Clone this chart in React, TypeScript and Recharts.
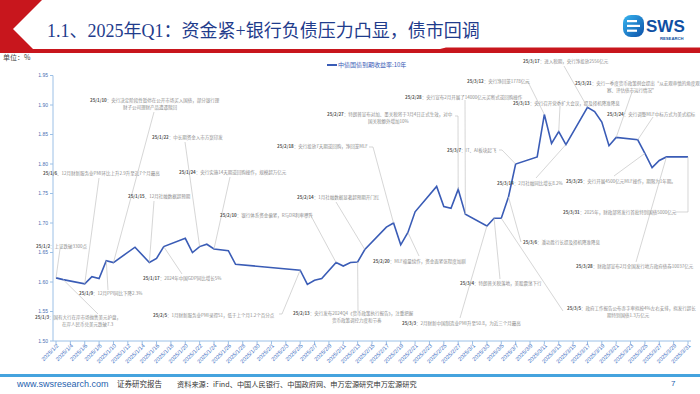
import React from "react";
import { LineChart, Line, XAxis, YAxis, ReferenceDot } from "recharts";

// 中债国债到期收益率:10年 (%), trading days only
const tradeDates = [
  "2025/1/2", "2025/1/3", "2025/1/6", "2025/1/7", "2025/1/8", "2025/1/9", "2025/1/10",
  "2025/1/13", "2025/1/15", "2025/1/16", "2025/1/17", "2025/1/20", "2025/1/21", "2025/1/22",
  "2025/1/23", "2025/1/24", "2025/1/26", "2025/1/27", "2025/2/5", "2025/2/6", "2025/2/7",
  "2025/2/8", "2025/2/10", "2025/2/11", "2025/2/12", "2025/2/13", "2025/2/14", "2025/2/17",
  "2025/2/18", "2025/2/19", "2025/2/20", "2025/2/21", "2025/2/24", "2025/2/25", "2025/2/26",
  "2025/2/27", "2025/2/28", "2025/3/3", "2025/3/4", "2025/3/5", "2025/3/6", "2025/3/7",
  "2025/3/10", "2025/3/11", "2025/3/12", "2025/3/13", "2025/3/14", "2025/3/17", "2025/3/18",
  "2025/3/19", "2025/3/20", "2025/3/21", "2025/3/24", "2025/3/25", "2025/3/26", "2025/3/27",
  "2025/3/28", "2025/3/31",
];
const yieldValues = [
  1.607, 1.604, 1.597, 1.609, 1.606, 1.636, 1.633,
  1.659, 1.633, 1.64, 1.66, 1.674, 1.65, 1.66,
  1.664, 1.656, 1.653, 1.63, 1.62, 1.596, 1.603,
  1.606, 1.633, 1.627, 1.633, 1.634, 1.655, 1.693,
  1.7, 1.663, 1.684, 1.719, 1.762, 1.728, 1.725,
  1.757, 1.715, 1.695, 1.708, 1.708, 1.744, 1.8,
  1.812, 1.884, 1.835, 1.855, 1.833, 1.896, 1.889,
  1.871, 1.831, 1.845, 1.841, 1.818, 1.794, 1.806,
  1.812, 1.812,
];
const yTicks = [1.5, 1.55, 1.6, 1.65, 1.7, 1.75, 1.8, 1.85, 1.9, 1.95];

// event notes: the date they point at and their text
const noteDates = [
  "2025/1/2", "2025/1/3", "2025/1/6", "2025/1/9", "2025/1/10", "2025/1/15", "2025/1/17",
  "2025/1/22", "2025/1/24", "2025/2/5", "2025/2/10", "2025/2/13", "2025/2/14", "2025/2/18",
  "2025/2/20", "2025/2/27", "2025/2/28", "2025/3/3", "2025/3/4", "2025/3/5", "2025/3/6",
  "2025/3/7", "2025/3/11", "2025/3/13", "2025/3/14", "2025/3/17", "2025/3/21", "2025/3/24",
  "2025/3/25", "2025/3/28", "2025/3/31",
];
const noteTexts = [
  ["25/1/2：上证跌破3300点"],
  ["25/1/3：国有大行在岸市场抛售美元护盘，", "在岸人民币兑美元跌破7.3"],
  ["25/1/6、12月财新服务业PMI环比上升2.9升至近7个月最高"],
  ["25/1/9：12月PPI同比下降2.3%"],
  ["25/1/10：央行决定阶段性暂停在公开市场买入国债，部分银行理", "财子公司理财产品遭遇赎回"],
  ["25/1/15、12月社融数据超预期"],
  ["25/1/17：2024年中国GDP同比增长5%"],
  ["25/1/22：中长期资金入市方案印发"],
  ["25/1/24：央行实施14天期逆回购操作，规模超万亿元"],
  ["25/2/5：1月财新服务业PMI录得51，低于上个月1.2个百分点"],
  ["25/2/10：银行体系资金偏紧，R与DR利率攀升"],
  ["25/2/13：央行发布2024Q4《货币政策执行报告》，注重把握", "货币政策调控力度和节奏"],
  ["25/2/14：1月社融数据显著超预期开门红"],
  ["25/2/18：央行投放7天期逆回购，净回笼MLF"],
  ["25/2/20：MLF缩量续作，资金面紧张程度加剧"],
  ["25/2/27：特朗普宣布对加、墨关税将于3月4日正式生效，对中", "国关税额外增加10%"],
  ["25/2/28：央行宣布2月开展了14000亿元买断式逆回购操作"],
  ["25/3/3：2月财新中国制造业PMI升至50.8，为近三个月最高"],
  ["25/3/4：特朗普关税落地，美股震荡下行"],
  ["25/3/5：政府工作报告公布赤字率拟按4%左右安排，拟发行超长", "期特别国债1.3万亿元"],
  ["25/3/6：潘功胜行长提及择机降准降息"],
  ["25/3/7：IT、AI板块起飞"],
  ["25/3/12：央行净回笼1778亿元"],
  ["25/3/13：央行召开党委扩大会议，提及择机降准降息"],
  ["25/3/14：2月社融同比增长8.2%"],
  ["25/3/17：进入税期，央行净投放2556亿元"],
  ["25/3/21：央行一季度货币政策例会提出“从宏观审慎的角度观", "察、评估债市运行情况”"],
  ["25/3/24：央行调整MLF中标方式为美式招标"],
  ["25/3/25：央行开展4500亿元MLF操作，期限为1年期。"],
  ["25/3/28：财政部宣布2月全国发行地方政府债券10037亿元"],
  ["25/3/31：2025年，财政部将发行首批特别国债5000亿元"],
];
// where each note's text sits: [textX, baselineY, leaderEndX, leaderEndY, line2X, hookX]
const noteBoxes: number[][] = [
  [36, 247.6, 60, 249, 0, 0],
  [35, 319, 98, 314, 62, 0],
  [43, 174.6, 99, 178, 0, 0],
  [79, 294.6, 108, 290, 0, 0],
  [90, 101.6, 154, 112, 123, 0],
  [128, 197.6, 154, 201, 0, 0],
  [143, 279.6, 182, 274, 0, 0],
  [152, 138.6, 185, 142, 0, 0],
  [179, 173.6, 230, 177, 0, 0],
  [153, 316.6, 282, 314, 0, 279],
  [220, 216.6, 310, 214, 0, 306],
  [293, 314.6, 358, 311, 332, 0],
  [297, 198.6, 336, 202, 0, 0],
  [277, 147.6, 373, 147, 0, 369],
  [373, 262.6, 419, 256, 0, 0],
  [327, 115.6, 458, 116, 368, 455],
  [405, 98.6, 465, 100, 0, 0],
  [402, 324.6, 460, 318, 0, 0],
  [460, 284.6, 500, 279, 0, 0],
  [567, 309.6, 563, 311, 607, 0],
  [523, 243.6, 521, 242, 0, 0],
  [447, 151.6, 502, 150, 0, 499],
  [467, 82.6, 528, 82, 0, 525],
  [513, 104.6, 560, 106, 0, 0],
  [497, 184.6, 536, 178, 0, 0],
  [523, 62.6, 564, 66, 0, 0],
  [575, 84.6, 632, 92, 607, 0],
  [607, 115.6, 653, 117, 0, 0],
  [566, 182.6, 614, 176, 0, 0],
  [576, 267.6, 636, 262, 0, 0],
  [563, 213.6, 688, 212, 0, 675],
];

const calendarDays: string[] = [];
for (let d = new Date(2025, 0, 2); d <= new Date(2025, 2, 31); d.setDate(d.getDate() + 1)) {
  calendarDays.push(`${d.getFullYear()}/${d.getMonth() + 1}/${d.getDate()}`);
}
const yieldByDate: Record<string, number> = {};
tradeDates.forEach((d, i) => (yieldByDate[d] = yieldValues[i]));
const chartData = calendarDays.map((date) => ({
  date,
  y: date in yieldByDate ? yieldByDate[date] : null,
}));

const LINE_BLUE = "#3a5cb6";
const AXIS_BLUE = "#9cc0e6";
const CJK = "'Noto Sans CJK SC', 'Noto Sans', sans-serif";

function DateTick({ x, y, payload }: any) {
  return (
    <text
      x={x + 2}
      y={y - 1}
      textAnchor="end"
      dominantBaseline="middle"
      fontSize={5.6}
      fill="#4472c4"
      fontFamily="'Liberation Sans', Arial, sans-serif"
      transform={`rotate(-45, ${x + 2}, ${y - 1})`}
    >
      {payload.value}
    </text>
  );
}

function NoteShape({ cx, cy, idx }: any) {
  const [tx, ty, lx, ly, x2, hook] = noteBoxes[idx];
  const lines = noteTexts[idx];
  const m = lines[0].match(/^(\d+\/\d+\/\d+)(.*)$/);
  return (
    <g>
      <line x1={cx} y1={cy} x2={lx} y2={ly} stroke="#c4c4c4" strokeWidth={0.7} />
      {hook ? <line x1={hook} y1={ly} x2={lx} y2={ly} stroke="#c4c4c4" strokeWidth={0.7} /> : null}
      <text x={tx} y={ty} fontSize={4.5} fontFamily={CJK} fill="#8c8c8c">
        <tspan fill="#555" fontWeight={600}>{m ? m[1] : ""}</tspan>
        <tspan>{m ? m[2] : lines[0]}</tspan>
      </text>
      {lines[1] ? (
        <text x={x2} y={ty + 7} fontSize={4.5} fontFamily={CJK} fill="#8c8c8c">
          {lines[1]}
        </text>
      ) : null}
    </g>
  );
}

function Header() {
  return (
    <svg width={700} height={60} style={{ position: "absolute", left: 0, top: 0 }}>
      <polygon
        points="0,0 42,0 13,29 33,49 440,49 446,47.5 700,47.5 700,53 0,53"
        fill="#c8161d"
      />
      <text
        x={47}
        y={37}
        fontSize={18}
        fill="#1f3c8c"
        fontFamily="'Liberation Serif', 'Noto Sans CJK SC', serif"
      >
        1.1、2025年Q1：资金紧+银行负债压力凸显，债市回调
      </text>
      <defs>
        <linearGradient id="logoGrad" x1="0" y1="0" x2="1" y2="1">
          <stop offset="0%" stopColor="#38b6f0" />
          <stop offset="100%" stopColor="#0b4fa8" />
        </linearGradient>
      </defs>
      <rect x={623} y={15} width={21} height={22} rx={8} fill="url(#logoGrad)" />
      <rect x={627} y={20} width={10} height={2.2} fill="#fff" />
      <rect x={627} y={24.8} width={13} height={2.2} fill="#fff" />
      <rect x={627} y={29.6} width={10} height={2.2} fill="#fff" />
      <text x={646} y={32} fontSize={17} fontWeight={700} fill="#0f4fa3" fontFamily="'Liberation Sans', Arial, sans-serif">
        SWS
      </text>
      <text x={660} y={39.5} fontSize={4.2} fontWeight={700} fill="#0f4fa3" fontFamily="'Liberation Sans', Arial, sans-serif">
        RESEARCH
      </text>
    </svg>
  );
}

export default function App() {
  return (
    <div
      style={{
        position: "fixed",
        left: 0,
        top: 0,
        width: 700,
        height: 394,
        background: "#fff",
        overflow: "hidden",
      }}
    >
      <LineChart
        width={700}
        height={394}
        data={chartData}
        margin={{ top: 75.5, right: 9, bottom: 23, left: 0 }}
        style={{ position: "absolute", left: 0, top: 0 }}
      >
        <XAxis
          dataKey="date"
          interval={1}
          tick={<DateTick />}
          tickSize={3}
          height={30}
          padding={{ left: 3, right: 3 }}
          axisLine={{ stroke: AXIS_BLUE }}
          tickLine={{ stroke: AXIS_BLUE }}
        />
        <YAxis
          domain={[1.5, 1.95]}
          ticks={yTicks}
          width={53}
          tickSize={3}
          tickMargin={2}
          tickFormatter={(v: number) => v.toFixed(2)}
          tick={{ fontSize: 5, fill: "#4a6fb4", fontFamily: "'Liberation Sans', Arial, sans-serif" }}
          axisLine={{ stroke: AXIS_BLUE }}
          tickLine={{ stroke: AXIS_BLUE }}
          allowDataOverflow
        />
        <Line
          type="linear"
          dataKey="y"
          stroke={LINE_BLUE}
          strokeWidth={1.6}
          dot={false}
          connectNulls
          isAnimationActive={false}
        />
        {noteDates.map((d, i) => (
          <ReferenceDot
            key={i}
            x={d}
            y={yieldByDate[d]}
            r={0}
            shape={(p: any) => <NoteShape cx={p.cx} cy={p.cy} idx={i} />}
          />
        ))}
      </LineChart>

      <Header />

      <div
        style={{
          position: "absolute",
          left: 3,
          top: 53,
          fontSize: 7,
          color: "#444",
          fontFamily: CJK,
          lineHeight: "9px",
        }}
      >
        单位：%
      </div>

      <div
        style={{
          position: "absolute",
          left: 327,
          top: 61,
          display: "flex",
          alignItems: "center",
          gap: 1,
          fontSize: 6,
          lineHeight: "8px",
          color: LINE_BLUE,
          fontFamily: CJK,
        }}
      >
        <span style={{ display: "inline-block", width: 10, height: 1.5, background: LINE_BLUE }} />
        中债国债到期收益率:10年
      </div>

      <div
        style={{
          position: "absolute",
          left: 0,
          top: 374,
          width: 700,
          height: 2.5,
          background: "#45a3de",
        }}
      />
      <div
        style={{
          position: "absolute",
          left: 17,
          top: 378,
          fontSize: 9,
          lineHeight: "12px",
          color: "#1f5fae",
          fontFamily: "'Liberation Sans', Arial, sans-serif",
          whiteSpace: "nowrap",
        }}
      >
        www.swsresearch.com
      </div>
      <div
        style={{
          position: "absolute",
          left: 117,
          top: 378,
          fontSize: 7.5,
          lineHeight: "12px",
          color: "#333",
          fontFamily: CJK,
          whiteSpace: "nowrap",
        }}
      >
        证券研究报告
      </div>
      <div
        style={{
          position: "absolute",
          left: 177,
          top: 378,
          fontSize: 7.2,
          lineHeight: "12px",
          color: "#333",
          fontFamily: CJK,
          whiteSpace: "nowrap",
        }}
      >
        资料来源：iFind、中国人民银行、中国政府网、申万宏源研究申万宏源研究
      </div>
      <div
        style={{
          position: "absolute",
          left: 671,
          top: 378,
          fontSize: 8,
          lineHeight: "12px",
          color: "#1f5fae",
          fontFamily: "'Liberation Sans', Arial, sans-serif",
        }}
      >
        7
      </div>
    </div>
  );
}
